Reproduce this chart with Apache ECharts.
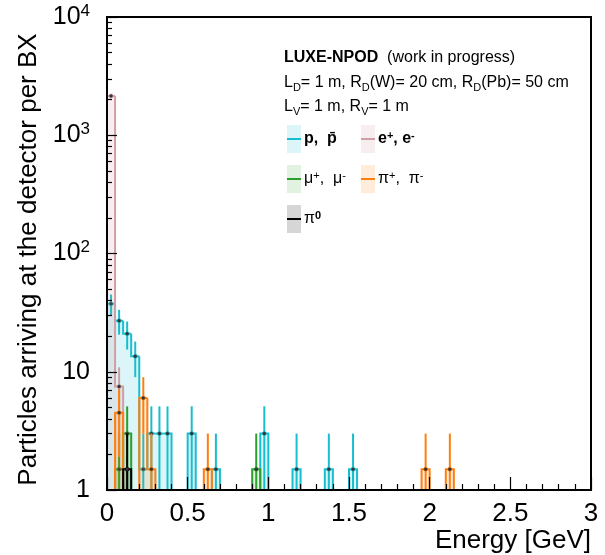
<!DOCTYPE html>
<html><head><meta charset="utf-8">
<script src="https://cdn.jsdelivr.net/npm/echarts@6/dist/echarts.min.js"></script>
<style>html,body{margin:0;padding:0;background:#fff}#c{width:605px;height:555px}</style>
</head><body><div id="c"></div>
<script>
// ---- data (bin lower edges in GeV, contents per BX, statistical errors) ----
const binWidth = 0.05;
const protonBins   = [0, 0.05, 0.10, 0.15, 0.20, 0.25, 0.30, 0.35, 0.50, 0.65, 0.95, 1.15, 1.35, 1.50];
const protonValues = [37.5, 27, 21, 13.5, 1.5, 3, 3, 3, 3, 1.5, 3, 1.5, 1.5, 1.5];
const protonErrors = [7.5, 6.4, 5.6, 4.5, 1.5, 2.1, 2.1, 2.1, 2.1, 1.5, 2.1, 1.5, 1.5, 1.5];
const electronBins   = [0, 0.05];
const electronValues = [2150, 7.5];
const electronErrors = [57, 3.4];
const muonBins   = [0.05, 0.10, 0.90];
const muonValues = [1.5, 3, 1.5];
const muonErrors = [1.5, 2.1, 1.5];
const pionBins   = [0.05, 0.20, 0.25, 0.60, 1.95, 2.10];
const pionValues = [4.5, 6, 1.5, 1.5, 1.5, 1.5];
const pionErrors = [2.6, 3, 1.5, 1.5, 1.5, 1.5];
const pi0Bins   = [0.10];
const pi0Values = [1.5];
const pi0Errors = [1.5];
const yLabelMap = {1: '1', 10: '10', 100: '{b|10}{s|2}', 1000: '{b|10}{s|3}', 10000: '{b|10}{s|4}'};

const FONT = "'Liberation Sans', Arial, Helvetica, sans-serif";

function makeSeries(name, bins, vals, errs, color, fill, z) {
  const data = bins.map((x0, j) => {
    const prevAdj = j > 0 && Math.abs(bins[j - 1] + binWidth - x0) < 1e-6;
    const nextAdj = j < bins.length - 1 && Math.abs(x0 + binWidth - bins[j + 1]) < 1e-6;
    return [x0, x0 + binWidth, vals[j], prevAdj ? vals[j - 1] : 0, nextAdj ? vals[j + 1] : 0, errs[j]];
  });
  return {
    type: 'custom', name, data, z, clip: true,
    encode: {x: [0, 1], y: 2},
    renderItem(params, api) {
      const x0 = api.value(0), x1 = api.value(1), v = api.value(2);
      const pv = api.value(3), nv = api.value(4), e = api.value(5);
      const a = api.coord([x0, v]), b = api.coord([x1, v]);
      const yBase = api.coord([x0, 1])[1];
      const yPrev = pv > 0 ? api.coord([x0, pv])[1] : yBase;
      const xc = (a[0] + b[0]) / 2;
      const yHi = api.coord([x0, v + e])[1];
      const yLo = v - e > 1 ? api.coord([x0, v - e])[1] : yBase;
      const pts = [[a[0], yPrev], [a[0], a[1]], [b[0], b[1]]];
      if (!(nv > 0)) pts.push([b[0], yBase]);
      return {type: 'group', children: [
        {type: 'rect', shape: {x: a[0], y: a[1], width: b[0] - a[0], height: yBase - a[1]}, style: {fill: fill}},
        {type: 'polyline', shape: {points: pts}, style: {stroke: color, lineWidth: 2, fill: null}},
        {type: 'line', shape: {x1: xc, y1: yHi, x2: xc, y2: yLo}, style: {stroke: color, lineWidth: 2}},
        {type: 'circle', shape: {cx: xc, cy: a[1], r: 2}, style: {fill: '#333', stroke: color, lineWidth: 0.6}}
      ]};
    }
  };
}

const C = {
  p:  ['#17becf', 'rgba(23,190,207,0.15)'],
  e:  ['#cf9fa3', 'rgba(200,140,145,0.15)'],
  mu: ['#2ca02c', 'rgba(44,160,44,0.14)'],
  pi: ['#ff7f0e', 'rgba(255,127,14,0.15)'],
  p0: ['#000000', 'rgba(0,0,0,0.16)']
};

const txt = (x, y, text, extra) => ({
  type: 'text', x, y, z: 50,
  style: Object.assign({text, fill: '#000', fontFamily: FONT, fontSize: 16, verticalAlign: 'middle',
    rich: {
      b: {fontFamily: FONT, fontSize: 16, fontWeight: 'bold'},
      n: {fontFamily: FONT, fontSize: 16},
      sub: {fontFamily: FONT, fontSize: 11, verticalAlign: 'bottom', padding: [9, 0, 0, 0]},
      sup: {fontFamily: FONT, fontSize: 11, fontWeight: 'bold', verticalAlign: 'top', padding: [0, 0, 6, 0]},
      supn: {fontFamily: FONT, fontSize: 11, verticalAlign: 'top', padding: [0, 0, 6, 0]}
    }}, extra || {})
});
const legBox = (x, y, c) => ([
  {type: 'rect', x: 0, y: 0, z: 50, shape: {x, y, width: 14, height: 28}, style: {fill: c[1]}},
  {type: 'line', z: 51, shape: {x1: x, y1: y + 14, x2: x + 14, y2: y + 14}, style: {stroke: c[0], lineWidth: 2}}
]);

const option = {
  animation: false,
  backgroundColor: '#fff',
  grid: {left: 107, right: 14, top: 17, bottom: 65, show: true, borderColor: '#000', borderWidth: 2},
  xAxis: {
    type: 'value', min: 0, max: 3, interval: 0.5, z: 10,
    axisLine: {show: true, lineStyle: {color: '#000', width: 2}},
    axisTick: {inside: true, length: 13, lineStyle: {color: '#000', width: 1.2}},
    minorTick: {show: true, splitNumber: 5, length: 6, lineStyle: {color: '#000', width: 1.2}},
    splitLine: {show: false},
    axisLabel: {fontSize: 26, color: '#000', margin: 11, fontFamily: FONT},
    name: 'Energy [GeV]', nameLocation: 'end', nameGap: 0,
    nameTextStyle: {align: 'right', verticalAlign: 'top', fontSize: 26, color: '#000', fontFamily: FONT, padding: [38, 0, 0, 0]}
  },
  yAxis: {
    type: 'log', logBase: 10, min: 1, max: 10000, z: 10,
    axisLine: {show: true, lineStyle: {color: '#000', width: 2}},
    axisTick: {inside: true, length: 10, lineStyle: {color: '#000', width: 1.2}},
    minorTick: {show: true, splitNumber: 9, length: 5, lineStyle: {color: '#000', width: 1.2}},
    splitLine: {show: false},
    axisLabel: {
      color: '#000', fontSize: 25, fontFamily: FONT, margin: 17,
      formatter: v => yLabelMap[Math.round(v)] || '',
      rich: {b: {fontSize: 25, fontFamily: FONT, color: '#000'},
             s: {fontSize: 17, fontFamily: FONT, color: '#000', verticalAlign: 'top', padding: [0, 0, 12, 0]}}
    },
    name: 'Particles arriving at the detector per BX', nameLocation: 'middle', nameGap: 65,
    nameTextStyle: {fontSize: 26, color: '#000', fontFamily: FONT, padding: [0, 12, 0, 0]}
  },
  series: [
    makeSeries('p', protonBins, protonValues, protonErrors, C.p[0], C.p[1], 2),
    makeSeries('e', electronBins, electronValues, electronErrors, C.e[0], C.e[1], 3),
    makeSeries('mu', muonBins, muonValues, muonErrors, C.mu[0], C.mu[1], 4),
    makeSeries('pi', pionBins, pionValues, pionErrors, C.pi[0], C.pi[1], 5),
    makeSeries('pi0', pi0Bins, pi0Values, pi0Errors, C.p0[0], C.p0[1], 6)
  ],
  graphic: [
    txt(284, 58, '{b|LUXE-NPOD}  {n|(work in progress)}'),
    txt(284, 83, 'L{sub|D}= 1 m, R{sub|D}(W)= 20 cm, R{sub|D}(Pb)= 50 cm'),
    txt(284, 107, 'L{sub|V}= 1 m, R{sub|V}= 1 m'),
    ...legBox(287, 125, C.p), txt(304, 139, '{b|p,  p\u0304}'),
    ...legBox(361, 125, C.e), txt(378, 139, '{b|e}{sup|+}{b|, e}{sup|-}'),
    ...legBox(287, 165, C.mu), txt(304, 179, '\u03bc{supn|+},  \u03bc{supn|-}'),
    ...legBox(361, 165, C.pi), txt(378, 179, '\u03c0{supn|+},  \u03c0{supn|-}'),
    ...legBox(287, 205, C.p0), txt(304, 219, '\u03c0{sup|0}')
  ]
};
echarts.init(document.getElementById('c')).setOption(option);
</script></body></html>
